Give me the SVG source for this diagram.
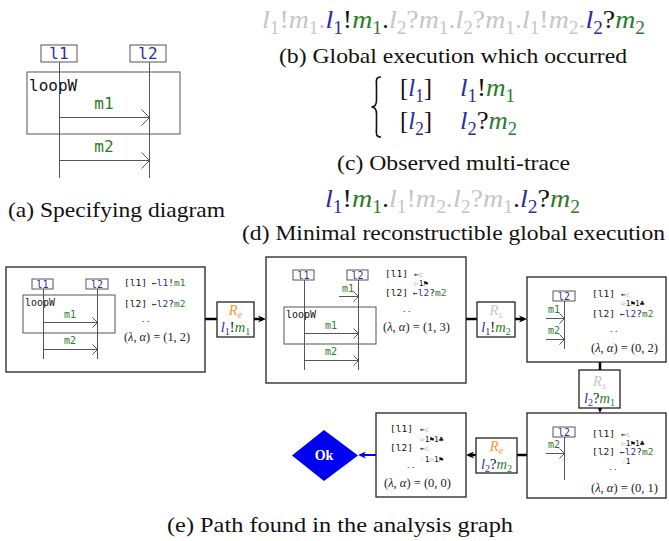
<svg xmlns="http://www.w3.org/2000/svg" width="669" height="541" viewBox="0 0 669 541">
<style>
.cap{font-family:"Liberation Serif",serif;font-size:21px;fill:#111}
.mt{font-family:"Liberation Serif",serif;font-size:26px;fill:#111}
.it{font-style:italic}
.bl{fill:#2d2d9f}
.gr{fill:#2b7b2b}
.gy{fill:#c6c6c6}
.k{fill:#111}
.mono16{font-family:"DejaVu Sans Mono","DejaVu Sans",monospace;font-size:16px}
.mono10{font-family:"DejaVu Sans Mono","DejaVu Sans",monospace;font-size:10px}
.sm{font-family:"DejaVu Sans Mono","DejaVu Sans",monospace;font-size:9.5px;fill:#111}
.sym{font-family:"DejaVu Sans Mono","DejaVu Sans",monospace;font-size:7.8px;fill:#111}
.la{font-family:"Liberation Serif",serif;font-size:12.5px;fill:#222}
.dots{font-family:"Liberation Serif",serif;font-size:10px;fill:#333}
.lbl{font-family:"Liberation Serif",serif;font-size:14.5px;fill:#111}
.mini{fill:none;stroke:#555;stroke-width:1}
.lbox{fill:#fff;stroke:#555;stroke-width:1}
.node{fill:#fff;stroke:#222;stroke-width:1.3}
.conn{fill:none;stroke:#000;stroke-width:2.5}
</style>
<defs>
<marker id="ah" viewBox="0 0 10 10" refX="6.25" refY="5" markerWidth="8" markerHeight="8" markerUnits="userSpaceOnUse" orient="auto"><path d="M0,0.5 L10,5 L0,9.5 L3,5 Z" fill="#000"/></marker>
<marker id="ahb" viewBox="0 0 10 10" refX="6.25" refY="5" markerWidth="8" markerHeight="8" markerUnits="userSpaceOnUse" orient="auto"><path d="M0,0.5 L10,5 L0,9.5 L3,5 Z" fill="#0000f0"/></marker>
</defs>
<rect width="669" height="541" fill="#fff"/>

<!-- (a) specifying diagram -->
<g id="spec-diagram">
  <rect class="mini" x="27" y="72" width="153" height="62"/>
  <text class="mono16" x="29" y="91" fill="#111">loopW</text>
  <g id="spec-l1">
    <rect class="lbox" x="41" y="45" width="36" height="17"/>
    <text class="mono16 bl" x="59" y="59" text-anchor="middle">l1</text>
    <line class="mini" x1="59.5" y1="62" x2="59.5" y2="178"/>
  </g>
  <g id="spec-l2">
    <rect class="lbox" x="130" y="45" width="36" height="17"/>
    <text class="mono16 bl" x="148" y="59" text-anchor="middle">l2</text>
    <line class="mini" x1="149.5" y1="62" x2="149.5" y2="178"/>
  </g>
  <text class="mono16 gr" x="104" y="109" text-anchor="middle">m1</text>
  <path class="mini" d="M59.5,117.5 H149.5 M141.5,109.5 L149.5,117.5 L141.5,125.5"/>
  <text class="mono16 gr" x="104" y="152" text-anchor="middle">m2</text>
  <path class="mini" d="M59.5,160.5 H149.5 M141.5,152.5 L149.5,160.5 L141.5,168.5"/>
</g>
<text class="cap" x="8" y="217" textLength="217" lengthAdjust="spacingAndGlyphs">(a) Specifying diagram</text>

<!-- (b) global execution -->
<text class="mt" x="262" y="28" textLength="383" lengthAdjust="spacingAndGlyphs"><tspan class="it gy">l</tspan><tspan class="gy" font-size="18" dy="6">1</tspan><tspan class="gy" dy="-6">!</tspan><tspan class="it gy">m</tspan><tspan class="gy" font-size="18" dy="6">1</tspan><tspan class="gy" dy="-6">.</tspan><tspan class="it bl">l</tspan><tspan class="bl" font-size="18" dy="6">1</tspan><tspan class="k" dy="-6">!</tspan><tspan class="it gr">m</tspan><tspan class="gr" font-size="18" dy="6">1</tspan><tspan class="k" dy="-6">.</tspan><tspan class="it gy">l</tspan><tspan class="gy" font-size="18" dy="6">2</tspan><tspan class="gy" dy="-6">?</tspan><tspan class="it gy">m</tspan><tspan class="gy" font-size="18" dy="6">1</tspan><tspan class="gy" dy="-6">.</tspan><tspan class="it gy">l</tspan><tspan class="gy" font-size="18" dy="6">2</tspan><tspan class="gy" dy="-6">?</tspan><tspan class="it gy">m</tspan><tspan class="gy" font-size="18" dy="6">1</tspan><tspan class="gy" dy="-6">.</tspan><tspan class="it gy">l</tspan><tspan class="gy" font-size="18" dy="6">1</tspan><tspan class="gy" dy="-6">!</tspan><tspan class="it gy">m</tspan><tspan class="gy" font-size="18" dy="6">2</tspan><tspan class="gy" dy="-6">.</tspan><tspan class="it bl">l</tspan><tspan class="bl" font-size="18" dy="6">2</tspan><tspan class="k" dy="-6">?</tspan><tspan class="it gr">m</tspan><tspan class="gr" font-size="18" dy="6">2</tspan></text>
<text class="cap" x="279" y="63" textLength="348" lengthAdjust="spacingAndGlyphs">(b) Global execution which occurred</text>

<!-- (c) multi-trace -->
<path d="M381,77 C375,77 376.5,81 376.5,87 L376.5,100 C376.5,104 375,107 371.5,107 C375,107 376.5,110 376.5,114 L376.5,127 C376.5,133 375,137 381,137" fill="none" stroke="#111" stroke-width="1.6"/>
<text class="mt" x="400" y="96" textLength="32" lengthAdjust="spacingAndGlyphs">[<tspan class="it bl">l</tspan><tspan class="bl" font-size="18" dy="6">1</tspan><tspan dy="-6">]</tspan></text>
<text class="mt" x="460" y="96" textLength="55" lengthAdjust="spacingAndGlyphs"><tspan class="it bl">l</tspan><tspan class="bl" font-size="18" dy="6">1</tspan><tspan class="k" dy="-6">!</tspan><tspan class="it gr">m</tspan><tspan class="gr" font-size="18" dy="6">1</tspan></text>
<text class="mt" x="400" y="129" textLength="32" lengthAdjust="spacingAndGlyphs">[<tspan class="it bl">l</tspan><tspan class="bl" font-size="18" dy="6">2</tspan><tspan dy="-6">]</tspan></text>
<text class="mt" x="460" y="129" textLength="57" lengthAdjust="spacingAndGlyphs"><tspan class="it bl">l</tspan><tspan class="bl" font-size="18" dy="6">2</tspan><tspan class="k" dy="-6">?</tspan><tspan class="it gr">m</tspan><tspan class="gr" font-size="18" dy="6">2</tspan></text>
<text class="cap" x="337" y="170" textLength="233" lengthAdjust="spacingAndGlyphs">(c) Observed multi-trace</text>

<!-- (d) minimal reconstruction -->
<text class="mt" x="325" y="207" textLength="255" lengthAdjust="spacingAndGlyphs"><tspan class="it bl">l</tspan><tspan class="bl" font-size="18" dy="6">1</tspan><tspan class="k" dy="-6">!</tspan><tspan class="it gr">m</tspan><tspan class="gr" font-size="18" dy="6">1</tspan><tspan class="k" dy="-6">.</tspan><tspan class="it gy">l</tspan><tspan class="gy" font-size="18" dy="6">1</tspan><tspan class="gy" dy="-6">!</tspan><tspan class="it gy">m</tspan><tspan class="gy" font-size="18" dy="6">2</tspan><tspan class="gy" dy="-6">.</tspan><tspan class="it gy">l</tspan><tspan class="gy" font-size="18" dy="6">2</tspan><tspan class="gy" dy="-6">?</tspan><tspan class="it gy">m</tspan><tspan class="gy" font-size="18" dy="6">1</tspan><tspan class="k" dy="-6">.</tspan><tspan class="it bl">l</tspan><tspan class="bl" font-size="18" dy="6">2</tspan><tspan class="k" dy="-6">?</tspan><tspan class="it gr">m</tspan><tspan class="gr" font-size="18" dy="6">2</tspan></text>
<text class="cap" x="242" y="240" textLength="423" lengthAdjust="spacingAndGlyphs">(d) Minimal reconstructible global execution</text>

<!-- connectors -->
<g id="connectors">
  <path class="conn" d="M205,319 H217"/>
  <path class="conn" d="M254,319 H263" marker-end="url(#ah)"/>
  <path class="conn" d="M466,319 H477"/>
  <path class="conn" d="M515,319 H524" marker-end="url(#ah)"/>
  <path class="conn" d="M600,362 V370"/>
  <path class="conn" d="M600,408 V410" marker-end="url(#ah)"/>
  <path class="conn" d="M527,455 H517"/>
  <path class="conn" d="M476,455 H469" marker-end="url(#ah)"/>
  <path fill="none" stroke="#0000f0" stroke-width="2" d="M376,455 H361" marker-end="url(#ahb)"/>
</g>

<!-- node 1 -->
<g id="node1">
  <rect class="node" x="6" y="267" width="199" height="105"/>
  <rect class="lbox" x="32" y="279" width="21" height="10"/>
  <text class="mono10 bl" x="42.5" y="288" text-anchor="middle">l1</text>
  <rect class="lbox" x="86" y="279" width="22" height="10"/>
  <text class="mono10 bl" x="97" y="288" text-anchor="middle">l2</text>
  <rect class="mini" x="23" y="295" width="92" height="38"/>
  <text class="mono10" x="25" y="306" fill="#111">loopW</text>
  <line class="mini" x1="43.5" y1="289" x2="43.5" y2="359"/>
  <line class="mini" x1="97.5" y1="289" x2="97.5" y2="359"/>
  <text class="mono10 gr" x="70" y="318" text-anchor="middle">m1</text>
  <path class="mini" d="M43.5,322.5 H97.5 M92.5,317.5 L97.5,322.5 L92.5,327.5"/>
  <text class="mono10 gr" x="70" y="344" text-anchor="middle">m2</text>
  <path class="mini" d="M43.5,349.5 H97.5 M92.5,344.5 L97.5,349.5 L92.5,354.5"/>
  <text class="sm bl" x="124" y="286">[l1]</text>
  <text class="sm" x="152" y="286"><tspan font-size="8">←</tspan><tspan class="bl">l1</tspan>!<tspan class="gr">m1</tspan></text>
  <text class="sm bl" x="124" y="307">[l2]</text>
  <text class="sm" x="152" y="307"><tspan font-size="8">←</tspan><tspan class="bl">l2</tspan>?<tspan class="gr">m2</tspan></text>
  <text class="dots" x="142" y="322">. .</text>
  <text class="la" x="124" y="341" textLength="66" lengthAdjust="spacingAndGlyphs">(<tspan class="it">λ</tspan>, <tspan class="it">α</tspan>) = (1, 2)</text>
</g>

<!-- label Re l1!m1 -->
<g id="step1">
  <rect class="node" x="217" y="302" width="37" height="35"/>
  <text class="lbl" x="235.5" y="315" text-anchor="middle"><tspan class="it" fill="#f7962f">R</tspan><tspan class="it" fill="#f7962f" font-size="10" dy="3">e</tspan></text>
  <text class="lbl" x="235.5" y="332" text-anchor="middle"><tspan class="it bl">l</tspan><tspan class="bl" font-size="10" dy="3">1</tspan><tspan dy="-3">!</tspan><tspan class="it gr">m</tspan><tspan class="gr" font-size="10" dy="3">1</tspan></text>
</g>

<!-- node 2 -->
<g id="node2">
  <rect class="node" x="266" y="257" width="200" height="126"/>
  <rect class="lbox" x="293" y="270" width="21" height="10"/>
  <text class="mono10 bl" x="303.5" y="279" text-anchor="middle">l1</text>
  <rect class="lbox" x="347" y="270" width="21" height="10"/>
  <text class="mono10 bl" x="357.5" y="279" text-anchor="middle">l2</text>
  <rect class="mini" x="284" y="307" width="92" height="37"/>
  <text class="mono10" x="286" y="318" fill="#111">loopW</text>
  <line class="mini" x1="304.5" y1="280" x2="304.5" y2="370"/>
  <line class="mini" x1="358.5" y1="280" x2="358.5" y2="370"/>
  <text class="mono10 gr" x="348" y="292" text-anchor="middle">m1</text>
  <path class="mini" d="M339,296.5 H358.5 M353.5,291.5 L358.5,296.5 L353.5,301.5"/>
  <text class="mono10 gr" x="331" y="329" text-anchor="middle">m1</text>
  <path class="mini" d="M304.5,333.5 H358.5 M353.5,328.5 L358.5,333.5 L353.5,338.5"/>
  <text class="mono10 gr" x="331" y="355" text-anchor="middle">m2</text>
  <path class="mini" d="M304.5,360.5 H358.5 M353.5,355.5 L358.5,360.5 L353.5,365.5"/>
  <text class="sm bl" x="385" y="277">[l1]</text>
  <text class="sym" x="414" y="276.5">←<tspan class="gy">ε</tspan></text>
  <text class="sym" x="414" y="285.5"><tspan class="gy">⊳</tspan>1⚑</text>
  <text class="sm bl" x="385" y="295.5">[l2]</text>
  <text class="sm" x="413" y="295.5"><tspan font-size="8">←</tspan><tspan class="bl">l2</tspan>?<tspan class="gr">m2</tspan></text>
  <text class="dots" x="403" y="312">. .</text>
  <text class="la" x="383" y="331" textLength="67" lengthAdjust="spacingAndGlyphs">(<tspan class="it">λ</tspan>, <tspan class="it">α</tspan>) = (1, 3)</text>
</g>

<!-- label Rs l1!m2 -->
<g id="step2">
  <rect class="node" x="477" y="302" width="38" height="35"/>
  <text class="lbl" x="496" y="315" text-anchor="middle"><tspan class="it gy">R</tspan><tspan class="it gy" font-size="10" dy="3">s</tspan></text>
  <text class="lbl" x="496" y="332" text-anchor="middle"><tspan class="it bl">l</tspan><tspan class="bl" font-size="10" dy="3">1</tspan><tspan dy="-3">!</tspan><tspan class="it gr">m</tspan><tspan class="gr" font-size="10" dy="3">2</tspan></text>
</g>

<!-- node 3 -->
<g id="node3">
  <rect class="node" x="527" y="277" width="139" height="85"/>
  <rect class="lbox" x="553" y="291" width="22" height="10"/>
  <text class="mono10 bl" x="564" y="300" text-anchor="middle">l2</text>
  <line class="mini" x1="564.5" y1="301" x2="564.5" y2="349"/>
  <text class="mono10 gr" x="554" y="313" text-anchor="middle">m1</text>
  <path class="mini" d="M546,318.5 H564.5 M559.5,313.5 L564.5,318.5 L559.5,323.5"/>
  <text class="mono10 gr" x="554" y="334" text-anchor="middle">m2</text>
  <path class="mini" d="M546,339.5 H564.5 M559.5,334.5 L564.5,339.5 L559.5,344.5"/>
  <text class="sm bl" x="592" y="297">[l1]</text>
  <text class="sym" x="621" y="296.5">←<tspan class="gy">ε</tspan></text>
  <text class="sym" x="621" y="305.5"><tspan class="gy">⊳</tspan>1⚑1♣</text>
  <text class="sm bl" x="592" y="317">[l2]</text>
  <text class="sm" x="620" y="317"><tspan font-size="8">←</tspan><tspan class="bl">l2</tspan>?<tspan class="gr">m2</tspan></text>
  <text class="dots" x="610" y="332">. .</text>
  <text class="la" x="591" y="352" textLength="67" lengthAdjust="spacingAndGlyphs">(<tspan class="it">λ</tspan>, <tspan class="it">α</tspan>) = (0, 2)</text>
</g>

<!-- label Rs l2?m1 -->
<g id="step3">
  <rect class="node" x="579" y="370" width="41" height="38"/>
  <text class="lbl" x="599.5" y="386" text-anchor="middle"><tspan class="it gy">R</tspan><tspan class="it gy" font-size="10" dy="3">s</tspan></text>
  <text class="lbl" x="599.5" y="403" text-anchor="middle"><tspan class="it bl">l</tspan><tspan class="bl" font-size="10" dy="3">2</tspan><tspan dy="-3">?</tspan><tspan class="it gr">m</tspan><tspan class="gr" font-size="10" dy="3">1</tspan></text>
</g>

<!-- node 4 -->
<g id="node4">
  <rect class="node" x="527" y="413" width="139" height="85"/>
  <rect class="lbox" x="553" y="427" width="22" height="10"/>
  <text class="mono10 bl" x="564" y="436" text-anchor="middle">l2</text>
  <line class="mini" x1="564.5" y1="437" x2="564.5" y2="480"/>
  <text class="mono10 gr" x="554" y="448" text-anchor="middle">m2</text>
  <path class="mini" d="M546,453.5 H564.5 M559.5,448.5 L564.5,453.5 L559.5,458.5"/>
  <text class="sm bl" x="592" y="437">[l1]</text>
  <text class="sym" x="621" y="436.5">←<tspan class="gy">ε</tspan></text>
  <text class="sym" x="621" y="445.5"><tspan class="gy">⊳</tspan>1⚑1♣</text>
  <text class="sm bl" x="592" y="455">[l2]</text>
  <text class="sm" x="620" y="455"><tspan font-size="8">←</tspan><tspan class="bl">l2</tspan>?<tspan class="gr">m2</tspan></text>
  <text class="sym" x="621" y="464"><tspan class="gy">♧</tspan>1</text>
  <text class="dots" x="609" y="470">. .</text>
  <text class="la" x="591" y="492" textLength="67" lengthAdjust="spacingAndGlyphs">(<tspan class="it">λ</tspan>, <tspan class="it">α</tspan>) = (0, 1)</text>
</g>

<!-- label Re l2?m2 -->
<g id="step4">
  <rect class="node" x="476" y="438" width="41" height="35"/>
  <text class="lbl" x="496.5" y="450.5" text-anchor="middle"><tspan class="it" fill="#f7962f">R</tspan><tspan class="it" fill="#f7962f" font-size="10" dy="3">e</tspan></text>
  <text class="lbl" x="496.5" y="468.5" text-anchor="middle"><tspan class="it bl">l</tspan><tspan class="bl" font-size="10" dy="3">2</tspan><tspan dy="-3">?</tspan><tspan class="it gr">m</tspan><tspan class="gr" font-size="10" dy="3">2</tspan></text>
</g>

<!-- node 5 -->
<g id="node5">
  <rect class="node" x="376" y="413" width="90" height="84"/>
  <text class="sm bl" x="390" y="432">[l1]</text>
  <text class="sym" x="420" y="431.5">←<tspan class="gy">ε</tspan></text>
  <text class="sym" x="420" y="441.5"><tspan class="gy">⊳</tspan>1⚑1♣</text>
  <text class="sm bl" x="390" y="451">[l2]</text>
  <text class="sym" x="420" y="450.5">←<tspan class="gy">ε</tspan></text>
  <text class="sym" x="420" y="461.5"><tspan class="gy">♧</tspan>1<tspan class="gy">⊳</tspan>1⚑</text>
  <text class="dots" x="407" y="468">. .</text>
  <text class="la" x="384" y="487" textLength="67" lengthAdjust="spacingAndGlyphs">(<tspan class="it">λ</tspan>, <tspan class="it">α</tspan>) = (0, 0)</text>
</g>

<!-- Ok -->
<g id="ok">
  <polygon points="324,430 358,455.5 324,481 292,455.5" fill="#0000f0"/>
  <text x="324" y="460" text-anchor="middle" font-family="Liberation Serif,serif" font-size="14" font-weight="bold" fill="#fff">Ok</text>
</g>

<text class="cap" x="167" y="532" textLength="346" lengthAdjust="spacingAndGlyphs">(e) Path found in the analysis graph</text>
</svg>
